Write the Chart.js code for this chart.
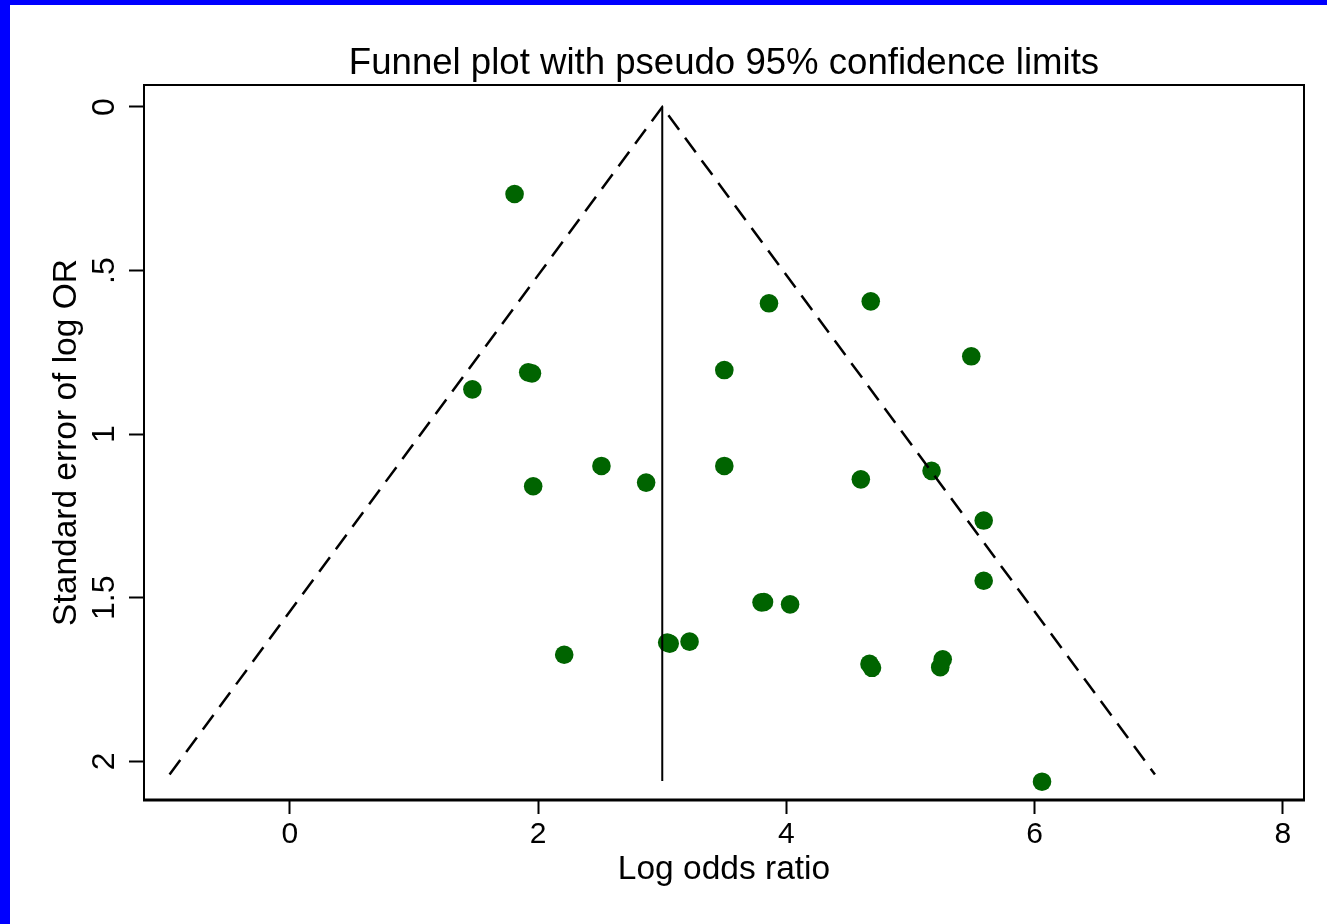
<!DOCTYPE html>
<html>
<head>
<meta charset="utf-8">
<title>Funnel plot</title>
<script src="https://cdn.jsdelivr.net/npm/chart.js@4.4.1/dist/chart.umd.min.js"></script>
<style>
    html, body {
        margin: 0;
        padding: 0;
        width: 1327px;
        height: 924px;
        background: #0000ff;
        overflow: hidden;
    }
    #funnel-chart {
        position: absolute;
        left: 10px;
        top: 5px;
        background: #ffffff;
    }
</style>
</head>
<body>
<canvas id="funnel-chart" width="1317" height="919"></canvas>
<script>
// study estimates: log odds ratio and its standard error
const logOddsRatio = [
    1.81, 3.86, 4.68, 5.49, 1.92, 1.95, 3.50, 1.47,
    2.51, 3.50, 5.17, 1.96, 2.87, 4.60, 5.59, 5.59,
    3.80, 3.82, 4.03, 3.04, 3.06, 3.22, 2.21, 4.67,
    4.69, 5.26, 5.24, 6.06
];
const stdErrLogOR = [
    0.266, 0.600, 0.594, 0.762, 0.811, 0.814, 0.804, 0.863,
    1.097, 1.097, 1.112, 1.159, 1.148, 1.138, 1.264, 1.448,
    1.514, 1.513, 1.520, 1.637, 1.640, 1.634, 1.674, 1.702,
    1.714, 1.688, 1.712, 2.062
];

// pooled estimate line and pseudo 95% limits
const pooledX = [3, 3];
const pooledY = [0, 2.06];
const limitX = [-0.97, 3, 6.97];
const limitY = [2.04, 0, 2.04];

const xTicks = [0, 2, 4, 6, 8];
const yTicks = [0, 0.5, 1, 1.5, 2];
const yTickLabels = ["0", ".5", "1", "1.5", "2"];

const FONT = "'Liberation Sans', Arial, sans-serif";

const toPoints = (xs, ys) => xs.map((x, i) => ({ x, y: ys[i] }));

// y tick labels are drawn rotated, reading bottom to top
const rotatedYLabels = {
    id: "rotatedYLabels",
    afterDraw(chart) {
        const { ctx, scales: { y } } = chart;
        ctx.save();
        ctx.font = `32px ${FONT}`;
        ctx.fillStyle = "#000";
        ctx.textAlign = "center";
        ctx.textBaseline = "middle";
        yTicks.forEach((value, i) => {
            ctx.save();
            ctx.translate(95, y.getPixelForValue(value));
            ctx.rotate(-Math.PI / 2);
            ctx.fillText(yTickLabels[i], 0, 0);
            ctx.restore();
        });
        ctx.restore();
    }
};

const plotFrame = {
    id: "plotFrame",
    afterDraw(chart) {
        const { ctx, chartArea: { left, top, right, bottom } } = chart;
        ctx.save();
        ctx.strokeStyle = "#000";
        ctx.lineWidth = 2;
        ctx.beginPath();
        ctx.moveTo(left, bottom);
        ctx.lineTo(left, top);
        ctx.lineTo(right, top);
        ctx.lineTo(right, bottom);
        ctx.stroke();
        ctx.lineWidth = 3;
        ctx.beginPath();
        ctx.moveTo(left - 1, bottom);
        ctx.lineTo(right + 1, bottom);
        ctx.stroke();
        ctx.restore();
    }
};

new Chart(document.getElementById("funnel-chart"), {
    type: "scatter",
    data: {
        datasets: [
            {
                label: "Studies",
                data: toPoints(logOddsRatio, stdErrLogOR),
                backgroundColor: "#006400",
                borderWidth: 0,
                pointRadius: 9.3,
                order: 2
            },
            {
                label: "Pooled",
                data: toPoints(pooledX, pooledY),
                showLine: true,
                borderColor: "#000",
                borderWidth: 2,
                pointRadius: 0,
                order: 1
            },
            {
                label: "Pseudo 95% limits",
                data: toPoints(limitX, limitY),
                showLine: true,
                borderColor: "#000",
                borderWidth: 2.5,
                borderDash: [18, 10],
                pointRadius: 0,
                order: 1
            }
        ]
    },
    options: {
        responsive: false,
        animation: false,
        layout: { padding: { top: 0, right: 23, bottom: 0, left: 0 } },
        plugins: {
            legend: { display: false },
            tooltip: { enabled: false },
            title: {
                display: true,
                fullSize: false,
                text: "Funnel plot with pseudo 95% confidence limits",
                color: "#000",
                font: { family: FONT, size: 36.6, weight: "normal", lineHeight: 1 },
                padding: { top: 40.7, bottom: 2.7 }
            }
        },
        scales: {
            x: {
                type: "linear",
                min: -1.176,
                max: 8.171,
                afterBuildTicks: scale => { scale.ticks = xTicks.map(value => ({ value })); },
                afterFit: scale => { scale.height = 124; },
                grid: { display: true, drawOnChartArea: false, drawTicks: true, tickLength: 14, tickWidth: 2, tickColor: "#000" },
                border: { display: false },
                ticks: { color: "#000", padding: 3, font: { family: FONT, size: 30 } },
                title: {
                    display: true,
                    text: "Log odds ratio",
                    color: "#000",
                    font: { family: FONT, size: 33.5 },
                    padding: { top: 0, bottom: 34 }
                }
            },
            y: {
                type: "linear",
                reverse: true,
                min: -0.0672,
                max: 2.118,
                afterBuildTicks: scale => { scale.ticks = yTicks.map(value => ({ value })); },
                afterFit: scale => { scale.width = 134; },
                grid: { display: true, drawOnChartArea: false, drawTicks: true, tickLength: 15, tickWidth: 2, tickColor: "#000" },
                border: { display: false },
                ticks: { color: "rgba(0,0,0,0)", font: { family: FONT, size: 30 } },
                title: {
                    display: true,
                    text: "Standard error of log OR",
                    color: "#000",
                    font: { family: FONT, size: 33.5 },
                    padding: { top: 37, bottom: 0 }
                }
            }
        }
    },
    plugins: [rotatedYLabels, plotFrame]
});
</script>
</body>
</html>
